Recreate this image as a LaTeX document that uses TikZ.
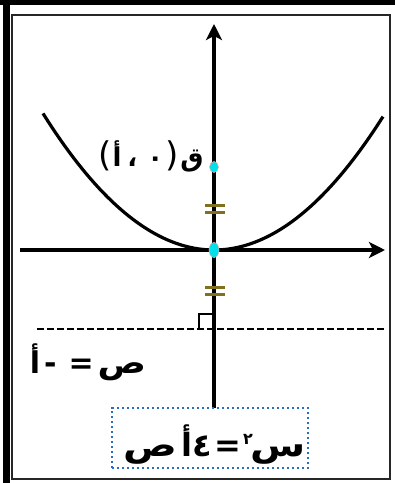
\documentclass[tikz,border=0pt]{standalone}
\usepackage{fontspec}
\usepackage{graphicx}
\newfontfamily\arabicfont[Script=Arabic]{DejaVu Sans}
\newfontfamily\plainfont{DejaVu Sans}
\usetikzlibrary{arrows.meta}
\definecolor{tickc}{RGB}{128,112,32}
\definecolor{dotc}{RGB}{0,225,235}
\definecolor{boxc}{RGB}{40,110,190}
\newcommand{\ab}[1]{\hbox{#1}}
\newcommand{\wideg}[2]{\scalebox{#1}[1]{\hbox{#2}}}
\tikzset{
  axisline/.style={line width=3.5pt, -{Stealth[length=16pt,width=16pt,inset=4pt]}},
  curveline/.style={line width=3.2pt},
  directrix/.style={line width=2.4pt, dash pattern=on 6.5pt off 3.5pt},
  tickline/.style={line width=3pt, tickc},
  dotmark/.style={fill=dotc, draw=red!35, line width=0.5pt},
  arlabel/.style={font=\arabicfont\bfseries, inner sep=0pt},
  eqbox/.style={draw=boxc, line width=2.4pt, dash pattern=on 2.4pt off 2.6pt, fill=white, minimum width=196pt, minimum height=60pt, inner sep=0pt}
}
\begin{document}
\begin{tikzpicture}[x=1pt,y=-1pt]
\useasboundingbox (0,0) rectangle (395,483);
% frame
\fill[black] (0,0) rectangle (395,5);
\fill[black] (3,0) rectangle (10,483);
\draw[line width=1.3pt, black!85] (12,15) rectangle (390,479);
% coordinates
\coordinate (O) at (214,250);
\coordinate (ytop) at (214,24);
\coordinate (ybot) at (214,412);
\coordinate (xl) at (20,250);
\coordinate (xr) at (385,250);
\coordinate (F) at (214,167);
\coordinate (dl) at (37,329);
\coordinate (dr) at (386,329);
\coordinate (ra1) at (214,314);
\coordinate (ra2) at (199,314);
\coordinate (ra3) at (199,329);
% axes
\draw[axisline] (ybot) -- (ytop);
\draw[axisline] (xl) -- (xr);
% parabola
\draw[curveline] plot[domain=-171:169, samples=80] ({214+\x},{250-(0.06834*\x)*(0.06834*\x)});
% directrix
\draw[directrix] (dl) -- (dr);
\draw[line width=2.3pt] (ra1) -- (ra2) -- (ra3);
% equal-distance ticks
\draw[tickline] (205,205) -- (225,205);
\draw[tickline] (205,212) -- (225,212);
\draw[tickline] (205,287) -- (225,287);
\draw[tickline] (205,294) -- (225,294);
% points
\fill[dotmark] (F) ellipse (4.5 and 5.5);
\fill[dotmark] (O) ellipse (5 and 7.5);
% labels
\node[arlabel, anchor=base, font=\arabicfont\bfseries\fontsize{26}{26}\selectfont] (flab) at (151,166)
  {{\plainfont\mdseries\fontsize{34}{34}\selectfont(}\hspace{1pt}\ab{أ}\hspace{6pt}\ab{،}\hspace{10pt}\ab{٠}\hspace{2pt}{\plainfont\mdseries\fontsize{34}{34}\selectfont)}\hspace{2pt}\ab{ق}};
\node[arlabel, anchor=base, font=\arabicfont\bfseries\fontsize{30}{30}\selectfont] (dlab) at (88,373)
  {\ab{أ}\hspace{4pt}\ab{-}\hspace{12pt}\ab{=}\hspace{4pt}\wideg{1.2}{ص}};
\node[eqbox] (eq) at (210,438) {};
\node[arlabel, anchor=base, font=\arabicfont\bfseries\fontsize{32}{32}\selectfont] (eqt) at (215,456)
  {\wideg{1.25}{ص}\hspace{4pt}\ab{أ}\ab{٤}\hspace{2pt}\ab{=}\hspace{2pt}\raisebox{12pt}{\fontsize{16}{16}\selectfont ٢}\hspace{-2pt}\wideg{1.25}{س}};
\end{tikzpicture}
\end{document}
